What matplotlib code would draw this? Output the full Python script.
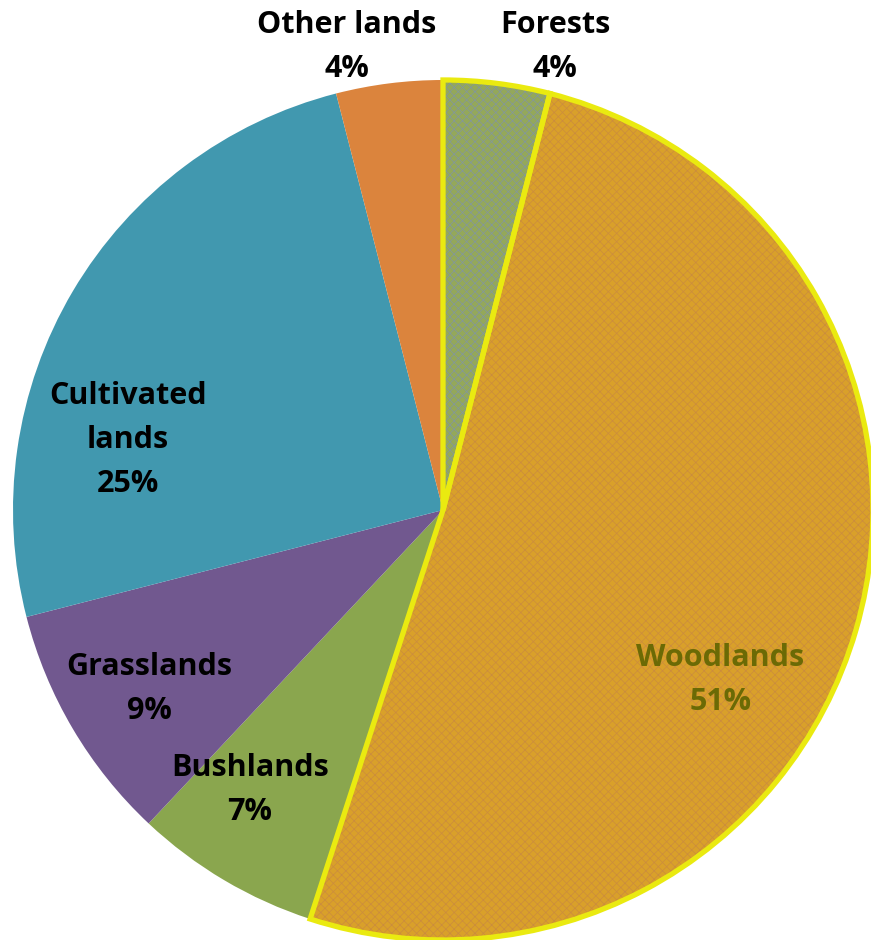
import matplotlib
matplotlib.use("Agg")
import matplotlib.pyplot as plt
import numpy as np

# land cover shares, clockwise from 12 o'clock
categories = ["Forests", "Woodlands", "Bushlands", "Grasslands", "Cultivated\nlands", "Other lands"]
shares = [4, 51, 7, 9, 25, 4]
colors = ["#94a85a", "#d9a02a", "#8aa64e", "#71588f", "#4198af", "#db843d"]
hatch_colors = ["#8296a0", "#cb8c3e", None, None, None, None]
label_colors = ["black", "#6b6a05", "black", "black", "black", "black"]
# label anchor as (distance from centre in radii, angle in degrees)
label_pos = [(1.108, 76.4), (0.756, -31.5), (0.79, -124.6), (0.80, -148.6), (0.75, 167.5), (1.10, 101.7)]

plt.rcParams["font.family"] = ["Open Sans", "DejaVu Sans"]
plt.rcParams["hatch.linewidth"] = 0.5

fig = plt.figure(figsize=(8.71, 9.4), dpi=100)
ax = fig.add_axes([0, 0, 1, 1])

cx, cy, r = 443, 430, 430
explode = [0.012, 0.012, 0, 0, 0, 0]
wedges, _ = ax.pie(shares, colors=colors, startangle=90, counterclock=False,
                   center=(cx, cy), radius=r, explode=explode, frame=True,
                   wedgeprops=dict(linewidth=0))
ax.set_xlim(0, 871)
ax.set_ylim(0, 940)
ax.set_aspect("equal")
ax.axis("off")

for w, hc in zip(wedges, hatch_colors):
    if hc is not None:
        w.set_hatch("xxxx")
        w.set_edgecolor(hc)
        w.set_linewidth(0)
        # yellow outline drawn on top as a separate patch
        outline = matplotlib.patches.Wedge(w.center, w.r, w.theta1, w.theta2,
                                           fill=False, edgecolor="#eaea10", linewidth=3.8)
        ax.add_patch(outline)

for name, pct, (d, ang), tc in zip(categories, shares, label_pos, label_colors):
    x = cx + d * r * np.cos(np.radians(ang))
    y = cy + d * r * np.sin(np.radians(ang))
    ax.text(x, y, f"{name}\n{pct}%", ha="center", va="center", fontsize=22,
            fontweight="bold", color=tc, linespacing=1.6)

fig.savefig("out.png", dpi=100)
